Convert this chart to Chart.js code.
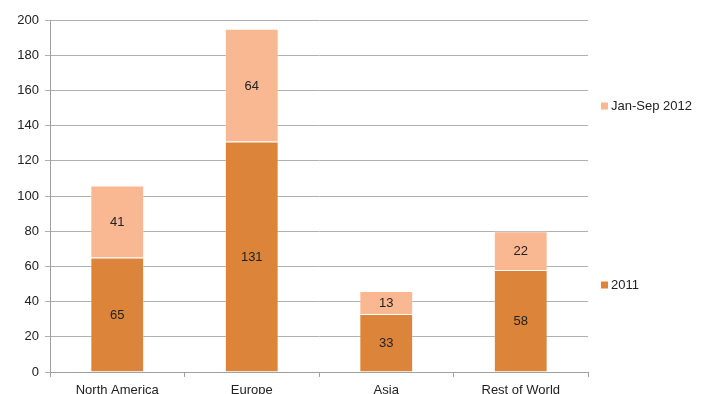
<!DOCTYPE html>
<html>
<head>
<meta charset="utf-8">
<script src="https://cdn.jsdelivr.net/npm/chart.js@4"></script>
<style>
  html, body { margin: 0; padding: 0; background: #fff; overflow: hidden; }
  #wrap { width: 708px; height: 404px; position: relative; }
</style>
</head>
<body>
<div id="wrap"><canvas id="chart"></canvas></div>
<script>
// Chart data
const regions = ['North America', 'Europe', 'Asia', 'Rest of World'];
const sales2011 = [65, 131, 33, 58];
const salesJanSep2012 = [41, 64, 13, 22];
const yTicks = [0, 20, 40, 60, 80, 100, 120, 140, 160, 180, 200];

const FONT = '"Liberation Sans", Arial, sans-serif';

// Draws the value in the middle of each bar segment
const valueLabels = {
    id: 'valueLabels',
    afterDatasetsDraw(chart) {
        const ctx = chart.ctx;
        ctx.save();
        ctx.font = '13px ' + FONT;
        ctx.fillStyle = '#222';
        ctx.textAlign = 'center';
        ctx.textBaseline = 'middle';
        chart.data.datasets.forEach((ds, i) => {
            chart.getDatasetMeta(i).data.forEach((bar, j) => {
                const mid = (bar.y + bar.base) / 2;
                ctx.fillText(ds.data[j], bar.x, mid + 1);
            });
        });
        ctx.restore();
    }
};

// Legend on the right, spread out like the original
const sideLegend = {
    id: 'sideLegend',
    afterDraw(chart) {
        const ctx = chart.ctx;
        const rows = [
            { ds: chart.data.datasets[1], y: 106 },
            { ds: chart.data.datasets[0], y: 285 }
        ];
        ctx.save();
        ctx.font = '13px ' + FONT;
        ctx.textBaseline = 'middle';
        rows.forEach(r => {
            ctx.fillStyle = r.ds.backgroundColor;
            ctx.fillRect(601, r.y - 3.5, 7, 7);
            ctx.fillStyle = '#222';
            ctx.fillText(r.ds.label, 611, r.y);
        });
        ctx.restore();
    }
};

const chart = new Chart(document.getElementById('chart'), {
    type: 'bar',
    data: {
        labels: regions,
        datasets: [{
            label: '2011',
            data: sales2011,
            backgroundColor: '#DC843A',
            borderColor: 'rgba(255,255,255,0.35)',
            borderWidth: 1,
            categoryPercentage: 1,
            barPercentage: 0.4
        }, {
            label: 'Jan-Sep 2012',
            data: salesJanSep2012,
            backgroundColor: '#F9B792',
            borderColor: 'rgba(255,255,255,0.35)',
            borderWidth: 1,
            categoryPercentage: 1,
            barPercentage: 0.4
        }]
    },
    options: {
        responsive: true,
        maintainAspectRatio: false,
        animation: false,
        layout: {
            padding: { top: 20, right: 120, left: 0, bottom: 0 }
        },
        plugins: {
            legend: { display: false },
            tooltip: { enabled: false }
        },
        scales: {
            x: {
                stacked: true,
                grid: {
                    offset: true,
                    drawOnChartArea: false,
                    color: '#a0a0a0',
                    tickLength: 5
                },
                border: { color: '#a0a0a0' },
                ticks: {
                    color: '#222',
                    font: { family: FONT, size: 13 },
                    padding: 6
                },
                afterFit: s => { s.height = 32; }
            },
            y: {
                stacked: true,
                min: 0,
                max: 200,
                afterBuildTicks: s => { s.ticks = yTicks.map(v => ({ value: v })); },
                grid: {
                    color: '#b0b0b0',
                    tickLength: 5
                },
                border: { color: '#a0a0a0' },
                ticks: {
                    color: '#222',
                    font: { family: FONT, size: 13 },
                    padding: 6
                },
                afterFit: s => { s.width = 50; }
            }
        }
    },
    plugins: [valueLabels, sideLegend]
});
</script>
</body>
</html>
